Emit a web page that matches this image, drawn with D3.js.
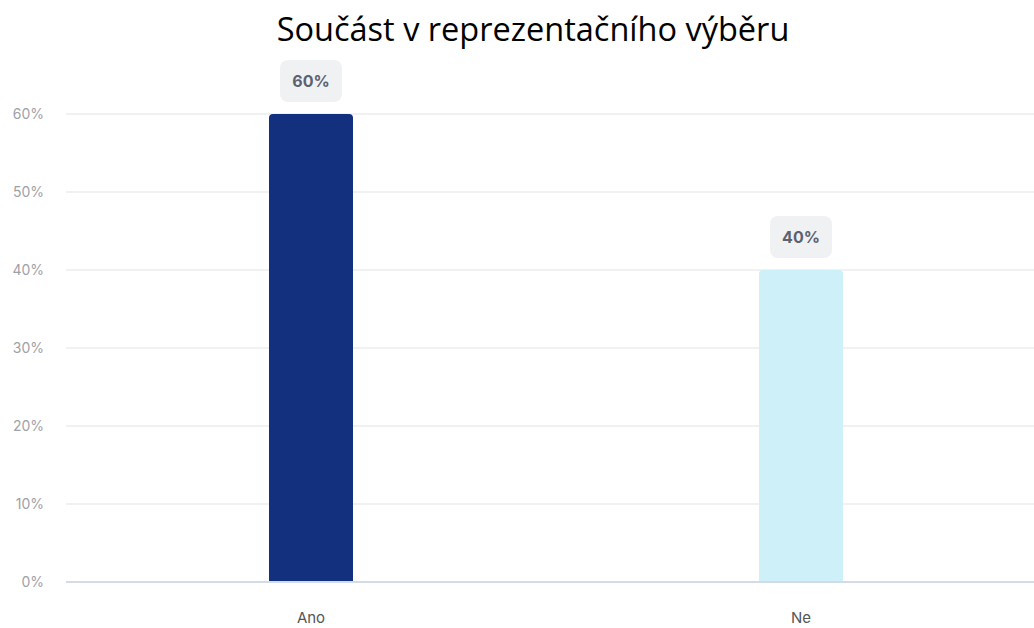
<!DOCTYPE html>
<html>
<head>
<meta charset="utf-8">
<script src="https://cdn.jsdelivr.net/npm/d3@7"></script>
<style>
 body { margin: 0; background: #fff; }
</style>
</head>
<body>
<div id="chart"></div>
<script>
var svgWidth = 1034;
var svgHeight = 628;

var categories = ["Ano", "Ne"];
var values = [60, 40];
var barColors = ["#12307e", "#cef1f9"];
var yTicks = [0, 10, 20, 30, 40, 50, 60];
var title = "Součást v reprezentačního výběru";

var margin = { top: 114, left: 66, bottom: 46 };
var height = svgHeight - margin.top - margin.bottom;

var svg = d3.select("#chart")
 .append("svg")
   .attr("width", svgWidth)
   .attr("height", svgHeight);

// title
svg.append("text")
  .attr("x", 533)
  .attr("y", 41)
  .attr("text-anchor", "middle")
  .style("font-family", "'Open Sans', sans-serif")
  .style("font-size", "32.5px")
  .style("fill", "#000")
  .text(title);

var y = d3.scaleLinear()
  .domain([0, 60])
  .range([margin.top + height, margin.top]);

var x = d3.scaleBand()
  .domain(categories)
  .range([margin.left, 1046])
  .paddingInner(0)
  .paddingOuter(0);

// gridlines
svg.append("g")
  .selectAll("line")
  .data(yTicks.filter(function (d) { return d > 0; }))
  .enter()
  .append("line")
    .attr("x1", margin.left)
    .attr("x2", svgWidth)
    .attr("y1", function (d) { return y(d); })
    .attr("y2", function (d) { return y(d); })
    .attr("stroke", "#ececec")
    .attr("stroke-width", 1.5);

// y tick labels
var yAxis = svg.append("g")
  .attr("transform", "translate(" + 44 + ",0)")
  .call(d3.axisLeft(y).tickValues(yTicks).tickSize(0).tickFormat(function (d) { return d + "%"; }));
yAxis.select(".domain").remove();
yAxis.selectAll("text")
  .attr("x", 0)
  .attr("dy", "0.35em")
  .style("font-family", "Inter, sans-serif")
  .style("font-size", "14px")
  .style("fill", "#9ea1a7");

// bars with rounded top
var barW = 84;
svg.append("g")
  .selectAll("path")
  .data(categories)
  .enter()
  .append("path")
    .attr("d", function (d, i) {
      var cx = x(d) + x.bandwidth() / 2;
      var x0 = cx - barW / 2, x1 = cx + barW / 2;
      var top = y(values[i]), bot = y(0), r = 4;
      return "M" + x0 + "," + bot + "V" + (top + r) + "Q" + x0 + "," + top + " " + (x0 + r) + "," + top +
        "H" + (x1 - r) + "Q" + x1 + "," + top + " " + x1 + "," + (top + r) + "V" + bot + "Z";
    })
    .attr("fill", function (d, i) { return barColors[i]; });

// baseline
svg.append("line")
  .attr("x1", margin.left)
  .attr("x2", svgWidth)
  .attr("y1", y(0))
  .attr("y2", y(0))
  .attr("stroke", "#d3dbe8")
  .attr("stroke-width", 2);

// x labels
svg.append("g")
  .selectAll("text")
  .data(categories)
  .enter()
  .append("text")
    .attr("x", function (d) { return x(d) + x.bandwidth() / 2; })
    .attr("y", 623)
    .attr("text-anchor", "middle")
    .style("font-family", "Inter, sans-serif")
    .style("font-size", "15px")
    .style("fill", "#555")
    .text(function (d) { return d; });

// value labels
var lab = svg.append("g")
  .selectAll("g")
  .data(categories)
  .enter()
  .append("g")
    .attr("transform", function (d, i) {
      return "translate(" + (x(d) + x.bandwidth() / 2) + "," + (y(values[i]) - 33) + ")";
    });
lab.append("rect")
  .attr("x", -31)
  .attr("y", -21)
  .attr("width", 62)
  .attr("height", 42)
  .attr("rx", 8)
  .attr("fill", "#f0f1f2");
lab.append("text")
  .attr("text-anchor", "middle")
  .attr("dy", "0.35em")
  .style("font-family", "Inter, sans-serif")
  .style("font-size", "16px")
  .style("font-weight", "bold")
  .style("fill", "#5b6272")
  .text(function (d, i) { return values[i] + "%"; });
</script>
</body>
</html>
